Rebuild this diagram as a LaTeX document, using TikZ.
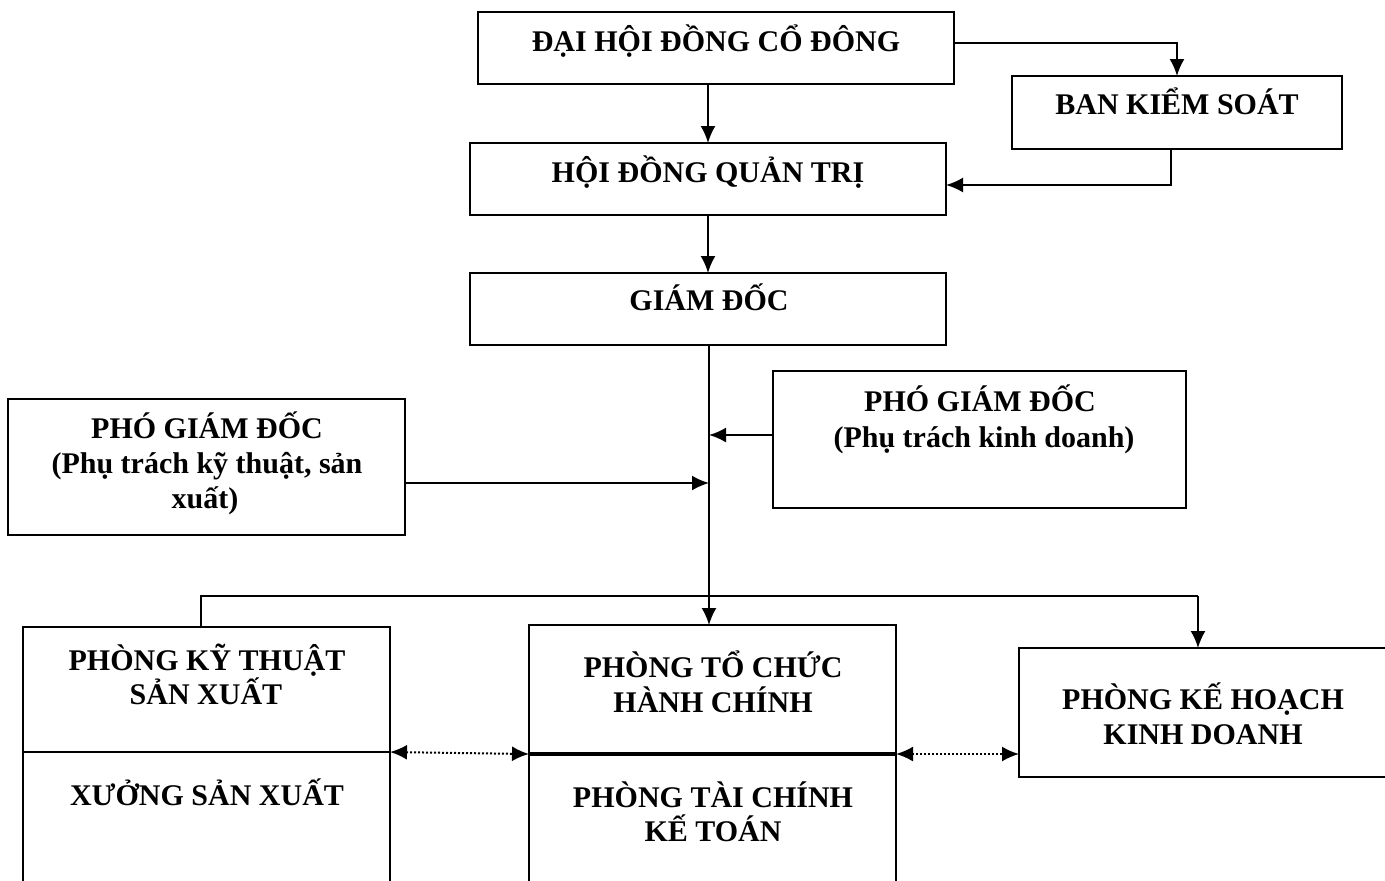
\documentclass[tikz,border=0pt]{standalone}
\usepackage{fontspec}
\setmainfont{Liberation Serif}
\usetikzlibrary{arrows.meta}
\begin{document}
\begin{tikzpicture}[x=0.5pt,y=-0.5pt,
  box/.style={draw, line width=1pt, rectangle, inner sep=0pt, outer sep=0pt},
  txt/.style={anchor=base, inner sep=0pt, font=\fontsize{15}{17.5}\selectfont\bfseries},
  conn/.style={line width=1pt},
  arr/.style={line width=1pt, -{Latex[length=8.5pt,width=7.5pt]}},
  darr/.style={line width=1pt, dash pattern=on 1pt off 1pt, {Latex[length=8.5pt,width=7.5pt]}-{Latex[length=8.5pt,width=7.5pt]}}]
\useasboundingbox (0,0) rectangle (1385,880);
\fill[white] (0,0) rectangle (1385,880);
\clip (0,0) rectangle (1385,880);
% boxes
\node[box, minimum width=238pt, minimum height=36pt] (dh) at (716,48) {};
\node[box, minimum width=165pt, minimum height=36.5pt] (bks) at (1177,112.5) {};
\node[box, minimum width=238pt, minimum height=36pt] (hd) at (708,179) {};
\node[box, minimum width=238pt, minimum height=36pt] (gd) at (708,309) {};
\node[box, minimum width=206.5pt, minimum height=68.5pt] (pkd) at (979.5,439.5) {};
\node[box, minimum width=198.5pt, minimum height=68pt] (pkt) at (206.5,467) {};
\node[box, minimum width=183.5pt, minimum height=62.5pt] (kt) at (206.5,689.5) {};
\node[box, minimum width=183.5pt, minimum height=74pt] (xs) at (206.5,826) {};
\node[box, minimum width=183.5pt, minimum height=64.5pt] (tc) at (712.5,689.5) {};
\node[box, minimum width=183.5pt, minimum height=73pt] (tk) at (712.5,827.5) {};
\node[box, minimum width=188pt, minimum height=64.5pt] (kh) at (1207,712.5) {};
\draw[line width=1.8pt] (tc.south west) -- (tc.south east);
% texts
\node[txt] (t1) at (716,51) {ĐẠI HỘI ĐỒNG CỔ ĐÔNG};
\node[txt] (t2) at (1177,114) {BAN KIỂM SOÁT};
\node[txt] (t3) at (708,182) {HỘI ĐỒNG QUẢN TRỊ};
\node[txt] (t4) at (709,310) {GIÁM ĐỐC};
\node[txt] (t5) at (980,411) {PHÓ GIÁM ĐỐC};
\node[txt] (t6) at (984,447) {(Phụ trách kinh doanh)};
\node[txt] (t7) at (207,438) {PHÓ GIÁM ĐỐC};
\node[txt] (t8) at (207,473) {(Phụ trách kỹ thuật, sản};
\node[txt] (t9) at (205,508) {xuất)};
\node[txt] (t10) at (207,670) {PHÒNG KỸ THUẬT};
\node[txt] (t11) at (206,704) {SẢN XUẤT};
\node[txt] (t12) at (207,805) {XƯỞNG SẢN XUẤT};
\node[txt] (t13) at (713,677) {PHÒNG TỔ CHỨC};
\node[txt] (t14) at (713,712) {HÀNH CHÍNH};
\node[txt] (t15) at (713,807) {PHÒNG TÀI CHÍNH};
\node[txt] (t16) at (713,841) {KẾ TOÁN};
\node[txt] (t17) at (1203,709) {PHÒNG KẾ HOẠCH};
\node[txt] (t18) at (1203,744) {KINH DOANH};
% connectors
\draw[arr] ([yshift=2.5pt]dh.east) -| (bks.north);
\draw[arr] (hd.north |- dh.south) -- (hd.north);
\draw[arr] ([xshift=-3pt]bks.south) |- ([yshift=-3pt]hd.east);
\draw[arr] (hd.south) -- (gd.north);
\coordinate (vx) at (709,345);
\draw[arr] (vx) -- (vx |- tc.north);
\coordinate (pw) at ([yshift=2.25pt]pkd.west);
\draw[arr] (pw) -- (pw -| vx);
\coordinate (pe) at ([yshift=-8pt]pkt.east);
\draw[arr] (pe) -- (pe -| vx);
\coordinate (bl) at (201,596);
\coordinate (br) at (1198,596);
\draw[conn] (bl |- kt.north) -- (bl) -- (br);
\draw[arr] (br) -- (br |- kh.north);
\draw[darr] (kt.south east) -- (tc.south west);
\draw[darr] (tc.south east) -- (kh.west |- tc.south east);
\end{tikzpicture}
\end{document}
